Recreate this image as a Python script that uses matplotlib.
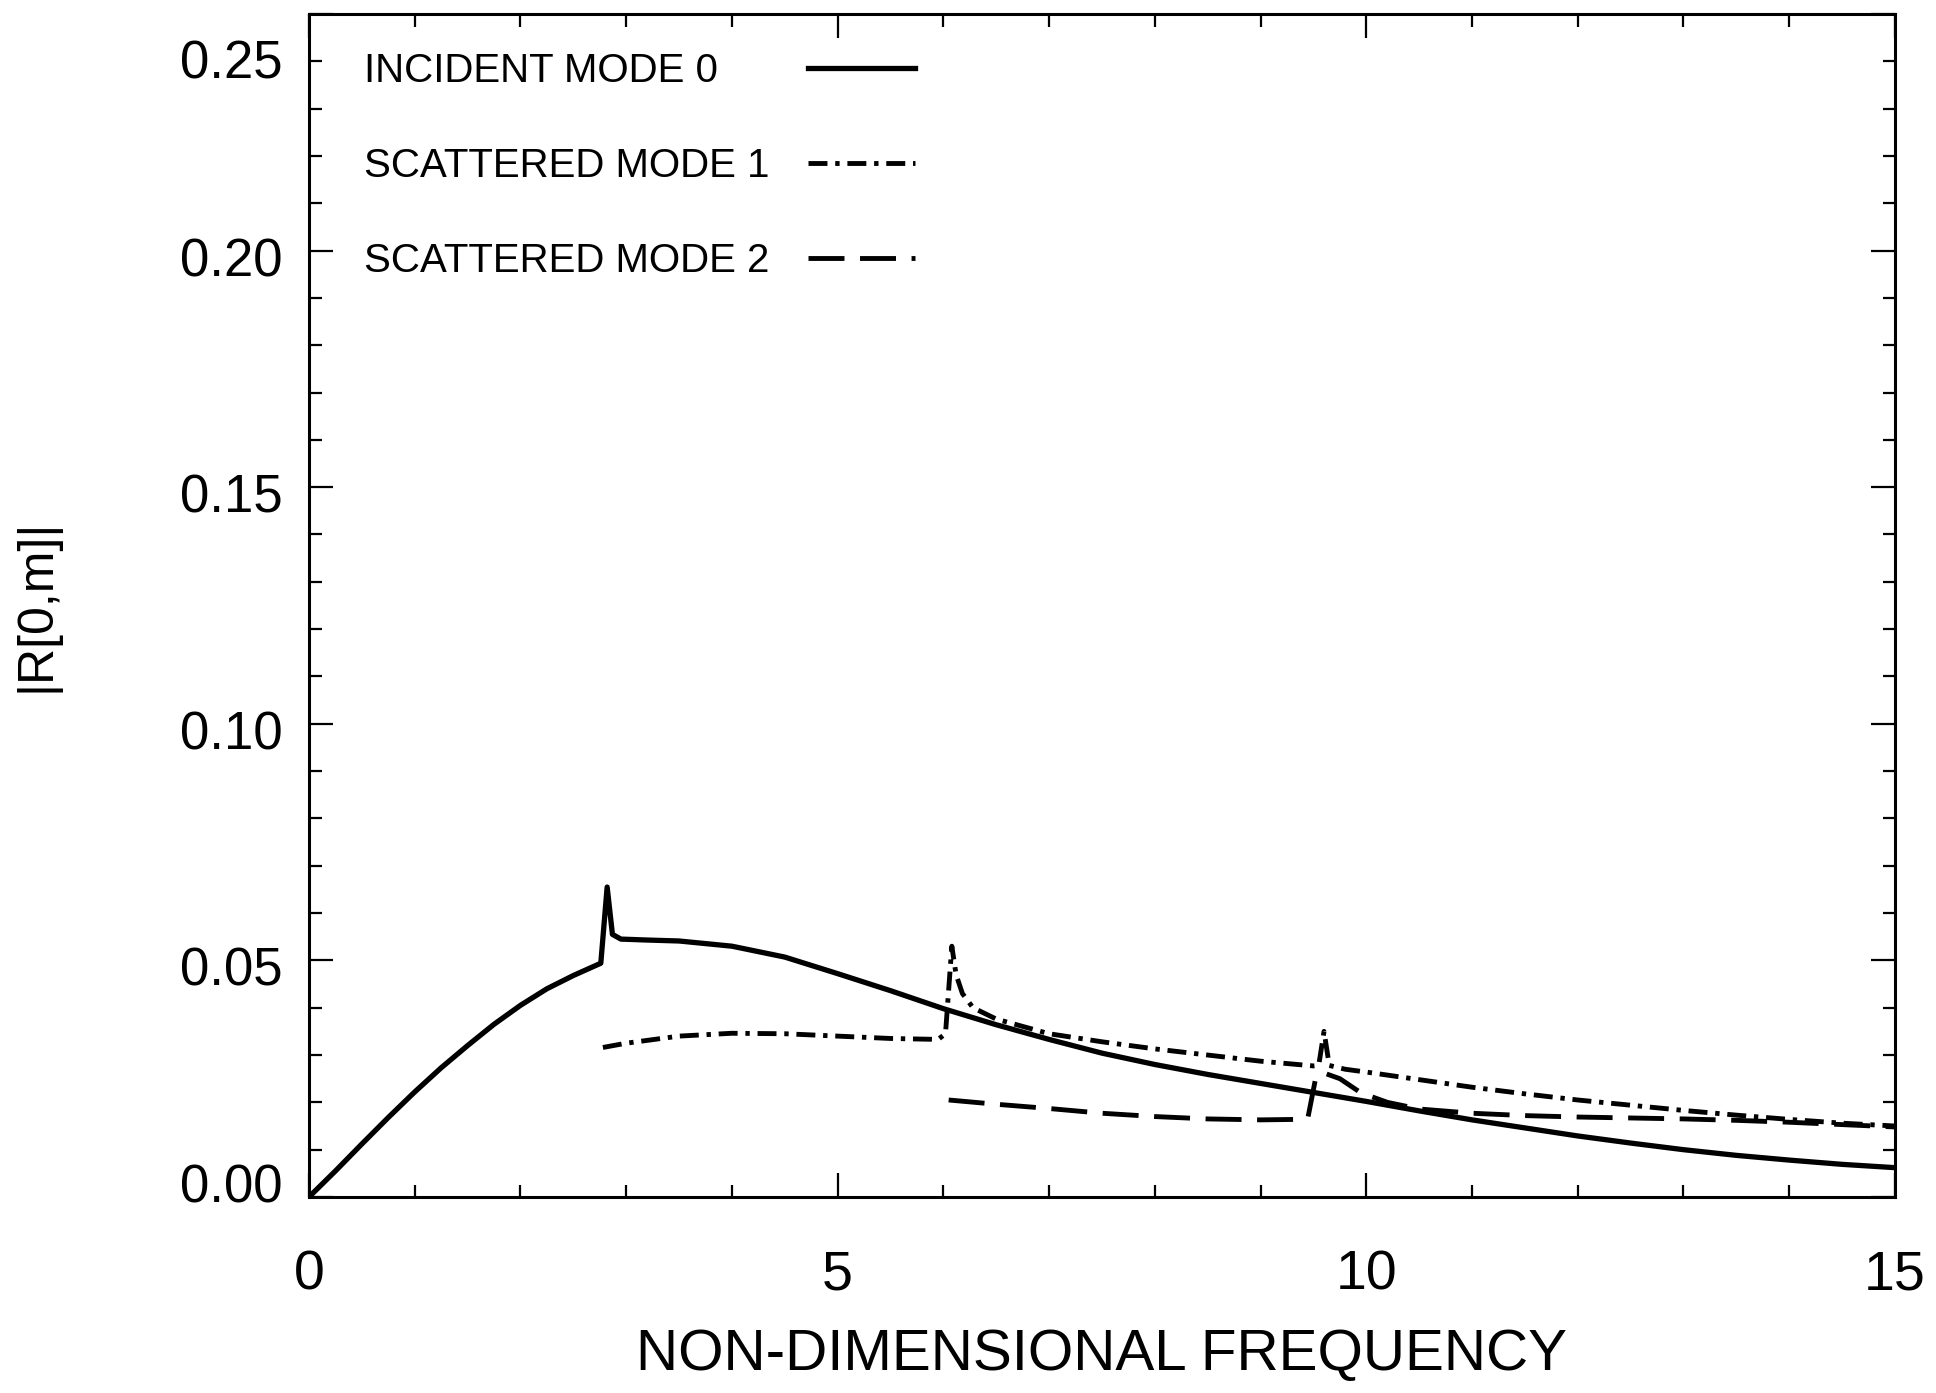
import matplotlib
matplotlib.use('Agg')
import matplotlib.pyplot as plt
import matplotlib.transforms as mtransforms

# incident mode 0 (solid)
freq0 = [0.0, 0.25, 0.5, 0.75, 1.0, 1.25, 1.5, 1.75, 2.0, 2.25, 2.5, 2.76, 2.82, 2.87,
         2.95, 3.2, 3.5, 4.0, 4.5, 5.0, 5.5, 6.0, 6.5, 7.0, 7.5, 8.0, 8.5, 9.0, 9.5,
         10.0, 10.5, 11.0, 11.5, 12.0, 12.5, 13.0, 13.5, 14.0, 14.5, 15.0]
r0 = [0.0, 0.0055, 0.0112, 0.0168, 0.0222, 0.0273, 0.0320, 0.0365, 0.0405, 0.0440,
      0.0468, 0.0494, 0.0655, 0.0555, 0.0545, 0.0543, 0.0541, 0.0530, 0.0507, 0.0472,
      0.0436, 0.0398, 0.0364, 0.0333, 0.0304, 0.0280, 0.0259, 0.0240, 0.0221, 0.0202,
      0.0182, 0.0163, 0.0146, 0.0129, 0.0114, 0.0100, 0.0088, 0.0078, 0.0069, 0.0062]

# scattered mode 1 (dash-dot)
freq1 = [2.78, 3.0, 3.5, 4.0, 4.5, 5.0, 5.5, 5.95, 6.02, 6.08, 6.12, 6.18, 6.28, 6.5,
         7.0, 7.5, 8.0, 8.5, 9.0, 9.5, 9.55, 9.6, 9.65, 9.8, 10.0, 10.5, 11.0, 11.5,
         12.0, 12.5, 13.0, 13.5, 14.0, 14.5, 15.0]
r1 = [0.0316, 0.0325, 0.0340, 0.0346, 0.0345, 0.0340, 0.0335, 0.0333, 0.0345, 0.0530,
      0.0470, 0.0430, 0.0400, 0.0376, 0.0345, 0.0328, 0.0313, 0.0300, 0.0287, 0.0277,
      0.0278, 0.0350, 0.0278, 0.0270, 0.0264, 0.0248, 0.0232, 0.0218, 0.0205, 0.0194,
      0.0183, 0.0173, 0.0164, 0.0156, 0.0150]

# scattered mode 2 (dashed)
freq2 = [6.05, 6.5, 7.0, 7.5, 8.0, 8.5, 9.0, 9.35, 9.45, 9.52, 9.6, 9.75, 9.95, 10.2,
         10.5, 11.0, 11.5, 12.0, 12.5, 13.0, 13.5, 14.0, 14.5, 15.0]
r2 = [0.0205, 0.0196, 0.0187, 0.0177, 0.0170, 0.0165, 0.0163, 0.0164, 0.0170, 0.0250,
      0.0262, 0.0250, 0.0220, 0.0200, 0.0186, 0.0177, 0.0172, 0.0169, 0.0167, 0.0165,
      0.0162, 0.0158, 0.0153, 0.0148]

labels = ['INCIDENT MODE 0', 'SCATTERED MODE 1', 'SCATTERED MODE 2']
xticks = [0, 5, 10, 15]
yticks = [0.00, 0.05, 0.10, 0.15, 0.20, 0.25]

font = ['Liberation Sans', 'DejaVu Sans']

fig = plt.figure(figsize=(19.36, 13.93), dpi=100)
ax = fig.add_axes([0.1596, 0.1407, 0.8192, 0.8493])

l0, = ax.plot(freq0, r0, color='black', lw=3.8, solid_joinstyle='round')
l1, = ax.plot(freq1, r1, color='black', lw=3.5, linestyle=(0, (3.9, 1.6, 0.9, 1.6)))
l2, = ax.plot(freq2, r2, color='black', lw=3.5, linestyle=(0, (7.4, 3.2)))

ax.set_xlim(0, 15)
ax.set_ylim(0, 0.25)
ax.set_xticks(xticks)
ax.set_xticks(range(0, 16), minor=True)
ax.set_yticks(yticks)
ax.set_yticks([i / 100 for i in range(26)], minor=True)
ax.set_xticklabels([str(t) for t in xticks], family=font, fontsize=40)
ax.set_yticklabels(['%.2f' % t for t in yticks], family=font, fontsize=38)

ax.tick_params(which='both', direction='in', top=True, right=True, width=1.6)
ax.tick_params(which='major', length=17)
ax.tick_params(which='minor', length=9)
ax.tick_params(axis='x', pad=38)
ax.tick_params(axis='y', pad=19)
for s in ax.spines.values():
    s.set_linewidth(2.2)

# nudge the end labels of the y axis like the original
ylabs = ax.get_yticklabels()
for i, lab in enumerate(ylabs):
    dy = -0.06
    if i == 0:
        dy = 0.14
    elif i == len(ylabs) - 1:
        dy = -0.45
    lab.set_transform(lab.get_transform() +
                      mtransforms.ScaledTranslation(0, dy, fig.dpi_scale_trans))

ax.set_xlabel('NON-DIMENSIONAL FREQUENCY', family=font, fontsize=42, labelpad=19)
ax.set_ylabel('|R[0,m]|', family=font, fontsize=36, labelpad=87)

# legend: text column on the left, line samples further right
leg_text = ax.legend([l0, l1, l2], labels, loc='upper left', bbox_to_anchor=(0.022, 0.985),
                     frameon=False, handlelength=0, handletextpad=0, borderpad=0,
                     labelspacing=1.42, prop={'family': font, 'size': 29})
ax.add_artist(leg_text)
ax.legend([l0, l1, l2], ['', '', ''], loc='upper left', bbox_to_anchor=(0.302, 0.985),
          frameon=False, handlelength=2.65, handletextpad=0, borderpad=0,
          labelspacing=1.42, prop={'family': font, 'size': 29})

fig.savefig('out.png', dpi=100)
